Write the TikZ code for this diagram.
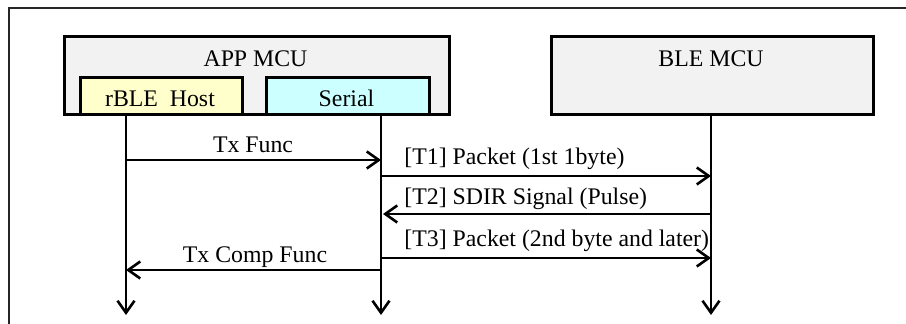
\documentclass[tikz,border=0pt]{standalone}
\usepackage{fontspec}
\setmainfont{Liberation Serif}
\usetikzlibrary{arrows.meta}
\begin{document}
\begin{tikzpicture}[x=0.5pt,y=-0.5pt,
  box/.style={draw, line width=1.3pt, inner sep=0pt, anchor=north west},
  lbl/.style={font=\fontsize{11.9}{14}\selectfont, inner sep=0pt, anchor=base},
  tlbl/.style={lbl, anchor=base west},
  arr/.style={line width=1.3pt, -{Straight Barb[length=6pt,width=8.5pt,line width=1.3pt]}}]
\useasboundingbox (0,0) rectangle (906,324);
\definecolor{boxgray}{HTML}{F2F2F2}
\definecolor{hostyellow}{HTML}{FFFFCC}
\definecolor{serialcyan}{HTML}{CCFFFF}
% frame (top and left edges)
\coordinate (frtl) at (9,8);
\coordinate (frtr) at (906,8);
\coordinate (frbl) at (9,324);
\draw[line width=1.3pt, black!85] (frtr) -- (frtl) -- (frbl);
% boxes
\node[box, fill=boxgray, minimum width=192.5pt, minimum height=39pt] (app) at (63,35) {};
\node[box, fill=boxgray, minimum width=161pt, minimum height=39pt] (ble) at (550,35) {};
\node[box, fill=hostyellow, minimum width=81pt, minimum height=18.5pt] (host) at (79,76) {};
\node[box, fill=serialcyan, minimum width=81.5pt, minimum height=18.5pt] (serial) at (265,76) {};
\node[lbl] (apptxt) at (255.5,67) {APP MCU};
\node[lbl] (bletxt) at (711,67) {BLE MCU};
\node[lbl] (hosttxt) at (160,107) {rBLE\ \ Host};
\node[lbl] (serialtxt) at (346.5,107) {Serial};
% lifelines
\coordinate (yend) at (0,315);
\coordinate (hostl) at (126,113);
\coordinate (seriall) at (381,113);
\coordinate (blel) at (711,113);
\draw[arr] (hostl) -- (hostl |- yend);
\draw[arr] (seriall) -- (seriall |- yend);
\draw[arr] (blel) -- (blel |- yend);
% message rows
\coordinate (y1) at (0,160);
\coordinate (y2) at (0,176);
\coordinate (y3) at (0,214);
\coordinate (y4) at (0,258);
\coordinate (y5) at (0,270);
\draw[arr] (hostl |- y1) -- (seriall |- y1);
\node[lbl] (m1) at (253,153) {Tx Func};
\draw[arr] (seriall |- y2) -- (blel |- y2);
\node[tlbl] (m2) at (404,165) {[T1] Packet (1st 1byte)};
\draw[arr] (blel |- y3) -- ([xshift=1pt]seriall |- y3);
\node[tlbl] (m3) at (404,205) {[T2] SDIR Signal (Pulse)};
\draw[arr] (seriall |- y4) -- (blel |- y4);
\node[tlbl] (m4) at (404,247) {[T3] Packet (2nd byte and later)};
\draw[arr] (seriall |- y5) -- (hostl |- y5);
\node[lbl] (m5) at (255,263) {Tx Comp Func};
\end{tikzpicture}
\end{document}
